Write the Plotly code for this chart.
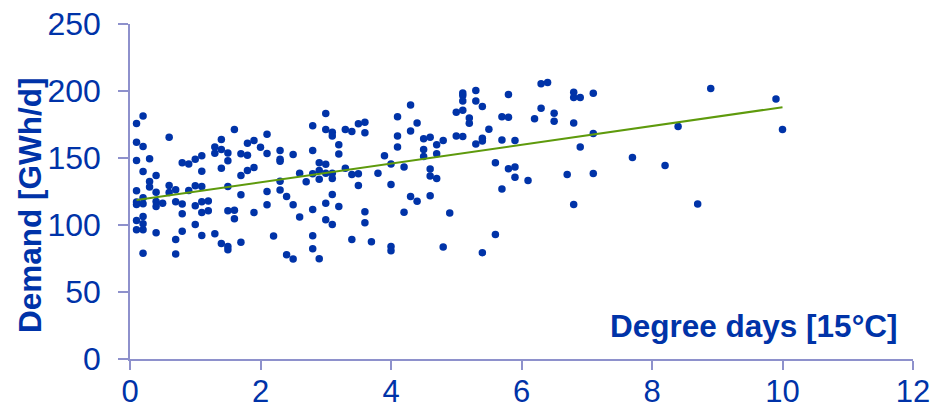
import plotly.graph_objects as go

# Degree days [15°C] and demand [GWh/d]
degree_days = [
    0.2, 0.1, 0.6, 0.1, 0.2, 0.3, 0.1, 0.8, 0.9, 1.0, 1.1, 0.2, 0.4, 1.1, 0.3, 0.3, 0.1, 0.6, 0.7, 0.6,
    0.9, 1.0, 1.1, 0.4, 0.2, 0.1, 0.1, 0.2, 0.4, 0.5, 0.4, 0.7, 0.8, 1.0, 1.1, 0.8, 1.1, 0.2, 0.1, 0.2,
    0.1, 0.2, 0.4, 1.0, 0.8, 1.1, 0.7, 0.2, 0.7,
    1.6, 1.4, 1.3, 1.4, 1.3, 1.5, 1.5, 1.7, 1.8, 1.8, 1.9, 2.0, 2.1, 2.1, 2.3, 2.3, 2.3, 2.5, 1.4, 1.7,
    1.8, 1.9, 1.5, 1.7, 2.1, 2.3, 2.3, 2.4, 2.5, 1.2, 1.2, 1.5, 1.6, 1.6, 1.9, 2.1, 1.3, 1.4, 1.5, 1.5,
    1.7, 2.2, 2.4, 2.5,
    3.0, 2.8, 3.0, 3.1, 3.1, 3.3, 3.4, 3.5, 3.6, 3.6, 2.8, 3.2, 3.2, 2.9, 3.0, 2.6, 2.8, 2.9, 3.0, 3.1,
    3.1, 2.9, 2.7, 3.3, 3.4, 3.5, 3.5, 3.8, 3.1, 2.8, 3.0, 3.2, 2.6, 3.0, 3.1, 3.6, 3.6, 2.8, 2.8, 2.9,
    3.4, 3.7,
    4.3, 4.1, 4.4, 4.3, 4.1, 4.1, 4.5, 4.6, 4.8, 4.7, 4.5, 4.5, 4.7, 5.0, 5.0, 3.9, 4.0, 4.2, 4.6, 4.6,
    4.7, 4.0, 4.3, 4.4, 4.6, 4.2, 4.9, 4.0, 4.0, 4.8,
    6.3, 6.4, 5.3, 5.1, 5.1, 5.1, 5.3, 5.4, 5.8, 5.1, 6.3, 6.5, 6.5, 6.2, 5.2, 5.2, 5.7, 5.8, 5.5, 5.1,
    5.3, 5.4, 5.4, 5.7, 5.9, 5.6, 5.8, 5.9, 5.9, 6.1, 5.7, 6.7, 5.6, 5.4,
    6.8, 6.8, 6.9, 7.1, 6.8, 7.1, 6.9, 7.7, 7.1, 6.8, 8.9, 9.9, 8.4, 10.0, 8.2, 8.7,
]
demand = [
    181.4, 175.7, 165.5, 161.8, 158.5, 149.4, 148.1, 146.4, 145.6, 149.1, 151.6, 139.9, 136.9, 140.2, 132.4, 128.3, 125.5, 129.5, 126.3, 124.2,
    125.7, 129.2, 128.7, 124.5, 120.3, 117.1, 115.3, 115.8, 117.5, 116.3, 113.8, 117.3, 115.6, 114.3, 117.3, 108.4, 109.3, 106.3, 103.4, 100.9,
    96.4, 96.4, 94.2, 100.4, 95.4, 92.2, 89.2, 79.0, 78.3,
    171.2, 163.8, 158.3, 156.3, 153.6, 153.8, 147.9, 153.1, 152.1, 161.1, 163.0, 158.1, 167.8, 153.3, 155.6, 149.1, 147.6, 152.6, 142.4, 136.9,
    140.6, 142.9, 128.7, 122.5, 125.0, 132.7, 126.2, 121.3, 115.1, 118.0, 110.6, 110.6, 111.1, 104.6, 109.3, 115.1, 93.4, 86.2, 84.0, 81.5,
    87.2, 91.7, 77.8, 74.6,
    183.2, 174.0, 171.2, 169.3, 166.5, 171.2, 169.7, 175.5, 176.7, 168.8, 155.6, 159.8, 152.9, 146.4, 145.4, 138.7, 138.2, 140.6, 138.7, 138.7,
    134.7, 134.2, 132.2, 142.4, 137.7, 138.2, 129.5, 138.7, 122.7, 111.6, 116.3, 113.8, 105.9, 103.9, 100.4, 109.8, 101.6, 91.9, 82.3, 74.8,
    89.2, 87.5,
    189.6, 180.7, 176.2, 170.2, 166.5, 158.3, 164.3, 165.5, 163.0, 159.8, 156.3, 151.1, 153.1, 184.2, 166.5, 151.6, 145.6, 143.2, 141.7, 136.5,
    134.7, 130.2, 121.3, 117.8, 121.8, 109.6, 108.9, 84.0, 80.8, 83.5,
    205.5, 206.3, 200.3, 198.6, 196.6, 192.6, 192.6, 188.4, 197.3, 185.7, 187.1, 183.4, 177.5, 179.2, 179.9, 176.0, 180.7, 180.5, 171.5, 166.0,
    160.5, 164.8, 162.6, 163.5, 163.0, 146.4, 141.9, 143.2, 135.7, 133.2, 126.8, 137.7, 92.9, 79.3,
    199.1, 195.1, 195.1, 198.4, 176.2, 168.2, 158.3, 150.3, 138.4, 115.3, 201.8, 194.1, 173.5, 171.2, 144.4, 115.6,
]

trend_x = [0.1, 10.0]
trend_y = [118.6, 187.9]

x_ticks = [0, 2, 4, 6, 8, 10, 12]
y_ticks = [0, 50, 100, 150, 200, 250]

BLUE = "#0033A8"
AXIS = "#8E91CC"
GREEN = "#5E9A0C"
FONT = "Liberation Sans, Arial, sans-serif"

fig = go.Figure()
fig.add_trace(go.Scatter(
    x=degree_days, y=demand, mode="markers",
    marker=dict(color=BLUE, size=7.5, line=dict(width=0)),
    hoverinfo="x+y", showlegend=False,
))
fig.add_trace(go.Scatter(
    x=trend_x, y=trend_y, mode="lines",
    line=dict(color=GREEN, width=2), showlegend=False,
))

fig.update_layout(
    width=933, height=410,
    margin=dict(l=130, r=20, t=24, b=51, autoexpand=False),
    paper_bgcolor="white", plot_bgcolor="white",
    font=dict(family=FONT, color=BLUE, size=32),
    xaxis=dict(
        range=[0, 12], tickvals=x_ticks, showgrid=False, zeroline=False,
        showline=True, linecolor=AXIS, linewidth=1.5,
        ticks="outside", ticklen=9, tickwidth=1.5, tickcolor=AXIS,
        tickfont=dict(family=FONT, color=BLUE, size=31),
        ticklabelstandoff=-5, automargin=False,
    ),
    yaxis=dict(
        range=[0, 250], tickvals=y_ticks, showgrid=False, zeroline=False,
        showline=True, linecolor=AXIS, linewidth=1.5,
        ticks="outside", ticklen=10, tickwidth=1.5, tickcolor=AXIS,
        tickfont=dict(family=FONT, color=BLUE, size=32),
        ticklabelstandoff=11, automargin=False,
    ),
    annotations=[
        dict(
            text="<b>Demand [GWh/d]</b>", textangle=-90,
            xref="paper", yref="paper", x=-0.128, y=0.459,
            xanchor="center", yanchor="middle", showarrow=False,
            font=dict(family=FONT, color=BLUE, size=31.5),
        ),
        dict(
            text="<b>Degree days [15°C]</b>",
            xref="x", yref="y", x=11.78, y=25,
            xanchor="right", yanchor="middle", showarrow=False,
            font=dict(family=FONT, color=BLUE, size=31.5),
        ),
    ],
)

fig.write_html(
    "out.html",
    config={"displayModeBar": False},
    post_script="document.body.style.margin='0';document.body.style.overflow='hidden';",
)
